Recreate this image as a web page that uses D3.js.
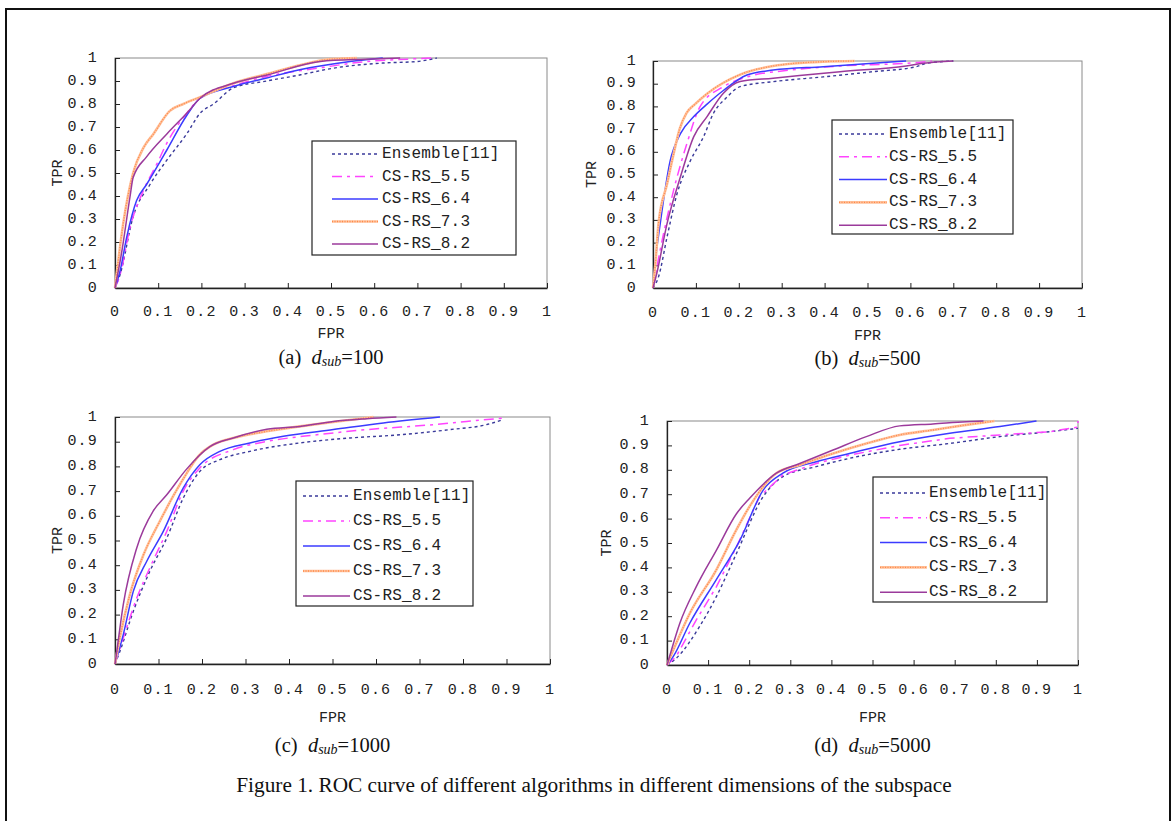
<!DOCTYPE html>
<html><head><meta charset="utf-8">
<script src="https://cdn.jsdelivr.net/npm/d3@7"></script>
<style>body{margin:0;background:#fff}</style>
</head><body>
<svg id="c" width="1176" height="821"></svg>
<script>
// ---------- DATA ----------
const seriesNames = ["Ensemble[11]", "CS-RS_5.5", "CS-RS_6.4", "CS-RS_7.3", "CS-RS_8.2"];
const xTicks = [0,0.1,0.2,0.3,0.4,0.5,0.6,0.7,0.8,0.9,1];
const yTicks = [0,0.1,0.2,0.3,0.4,0.5,0.6,0.7,0.8,0.9,1];
const panelLabels = ["(a)", "(b)", "(c)", "(d)"];
const panelDsub = ["100", "500", "1000", "5000"];
const figCaption = "Figure 1. ROC curve of different algorithms in different dimensions of the subspace";

// panel (a) d_sub=100  [FPR, TPR]
const a_ens = [[0,0],[0.012,0.06],[0.042,0.31],[0.081,0.45],[0.12,0.556],[0.166,0.67],[0.197,0.76],[0.228,0.80],[0.274,0.87],[0.351,0.90],[0.43,0.927],[0.506,0.956],[0.62,0.978],[0.70,0.985],[0.745,1]];
const a_55 = [[0,0],[0.012,0.06],[0.035,0.265],[0.066,0.425],[0.097,0.54],[0.12,0.63],[0.166,0.76],[0.197,0.825],[0.274,0.88],[0.351,0.92],[0.467,0.955],[0.583,0.985],[0.676,0.995],[0.737,1]];
const a_64 = [[0,0],[0.012,0.076],[0.027,0.22],[0.05,0.38],[0.073,0.45],[0.12,0.60],[0.166,0.75],[0.197,0.825],[0.274,0.876],[0.351,0.913],[0.43,0.95],[0.544,0.985],[0.62,1]];
const a_73 = [[0,0],[0.019,0.28],[0.042,0.50],[0.066,0.61],[0.089,0.67],[0.127,0.77],[0.158,0.80],[0.197,0.83],[0.274,0.89],[0.351,0.93],[0.43,0.97],[0.50,0.995],[0.56,1]];
const a_82 = [[0,0],[0.015,0.15],[0.035,0.40],[0.042,0.48],[0.073,0.57],[0.12,0.67],[0.166,0.76],[0.197,0.825],[0.274,0.89],[0.35,0.925],[0.475,0.985],[0.58,0.995],[0.66,1]];
// panel (b) d_sub=500
const b_ens = [[0,0],[0.013,0.05],[0.033,0.227],[0.056,0.415],[0.087,0.56],[0.118,0.667],[0.141,0.77],[0.172,0.84],[0.203,0.887],[0.28,0.909],[0.397,0.93],[0.513,0.953],[0.614,0.975],[0.637,0.99],[0.70,1]];
const b_55 = [[0,0],[0.017,0.17],[0.048,0.43],[0.079,0.636],[0.11,0.80],[0.164,0.887],[0.219,0.93],[0.32,0.96],[0.436,0.978],[0.59,0.99],[0.637,0.997],[0.65,1]];
const b_64 = [[0,0],[0.005,0.11],[0.017,0.286],[0.04,0.56],[0.064,0.68],[0.095,0.755],[0.126,0.81],[0.164,0.87],[0.219,0.938],[0.28,0.96],[0.397,0.975],[0.513,0.99],[0.59,1]];
const b_73 = [[0,0],[0.005,0.095],[0.013,0.287],[0.033,0.46],[0.048,0.59],[0.062,0.70],[0.078,0.77],[0.098,0.81],[0.126,0.856],[0.203,0.94],[0.28,0.978],[0.397,0.997],[0.47,1]];
const b_82 = [[0,0],[0.009,0.066],[0.033,0.286],[0.064,0.49],[0.095,0.667],[0.126,0.755],[0.164,0.858],[0.203,0.91],[0.28,0.924],[0.436,0.953],[0.59,0.978],[0.63,0.99],[0.70,1]];
// panel (c) d_sub=1000
const c_ens = [[0,0],[0.011,0.05],[0.042,0.213],[0.08,0.375],[0.119,0.51],[0.157,0.672],[0.195,0.78],[0.241,0.827],[0.31,0.861],[0.425,0.895],[0.54,0.915],[0.655,0.928],[0.77,0.949],[0.854,0.969],[0.893,0.99]];
const c_55 = [[0,0],[0.019,0.105],[0.05,0.267],[0.08,0.389],[0.119,0.537],[0.157,0.70],[0.195,0.794],[0.272,0.868],[0.349,0.901],[0.464,0.928],[0.579,0.949],[0.732,0.969],[0.808,0.982],[0.893,0.996]];
const c_64 = [[0,0],[0.019,0.119],[0.042,0.294],[0.073,0.416],[0.111,0.537],[0.157,0.713],[0.195,0.807],[0.241,0.861],[0.31,0.895],[0.387,0.922],[0.502,0.949],[0.617,0.976],[0.747,1]];
const c_73 = [[0,0],[0.011,0.105],[0.034,0.28],[0.065,0.44],[0.103,0.578],[0.149,0.726],[0.195,0.848],[0.226,0.888],[0.272,0.915],[0.349,0.942],[0.425,0.962],[0.502,0.98],[0.594,1]];
const c_82 = [[0,0],[0.004,0.05],[0.019,0.24],[0.05,0.47],[0.088,0.62],[0.119,0.685],[0.165,0.79],[0.218,0.88],[0.272,0.915],[0.349,0.95],[0.425,0.962],[0.502,0.982],[0.579,0.993],[0.647,1]];
// panel (d) d_sub=5000
const d_ens = [[0,0],[0.022,0.027],[0.079,0.157],[0.12,0.28],[0.169,0.457],[0.234,0.69],[0.282,0.772],[0.363,0.813],[0.444,0.847],[0.566,0.884],[0.688,0.908],[0.81,0.936],[0.93,0.956],[1,0.97]];
const d_55 = [[0,0],[0.022,0.034],[0.071,0.184],[0.12,0.32],[0.169,0.484],[0.225,0.69],[0.282,0.779],[0.363,0.826],[0.444,0.86],[0.566,0.90],[0.688,0.929],[0.81,0.943],[0.93,0.956],[1,0.975],[1,1]];
const d_64 = [[0,0],[0.015,0.034],[0.055,0.17],[0.12,0.35],[0.177,0.51],[0.234,0.717],[0.282,0.786],[0.363,0.833],[0.444,0.867],[0.566,0.915],[0.688,0.95],[0.81,0.977],[0.899,1]];
const d_73 = [[0,0],[0.015,0.06],[0.055,0.21],[0.12,0.39],[0.169,0.555],[0.201,0.65],[0.266,0.786],[0.323,0.82],[0.404,0.867],[0.485,0.908],[0.566,0.943],[0.647,0.963],[0.728,0.984],[0.797,1]];
const d_82 = [[0,0],[0.006,0.034],[0.031,0.17],[0.071,0.32],[0.12,0.47],[0.169,0.62],[0.201,0.683],[0.266,0.786],[0.323,0.826],[0.404,0.881],[0.485,0.936],[0.566,0.98],[0.647,0.988],[0.728,0.997],[0.77,1]];

// ---------- LAYOUT ----------
const panels = [
  {series:[a_ens,a_55,a_64,a_73,a_82], x0:115, x1:547, y0:58, y1:288, leg:{x:312,y:141,w:204,h:114,lx0:332,lx1:378,tx:382,row0:154,dy:22.5}, tick:312, fpr:334, cap:357, tprX:58, ytx:98},
  {series:[b_ens,b_55,b_64,b_73,b_82], x0:653, x1:1082, y0:61, y1:288, leg:{x:832,y:120,w:181,h:114,lx0:839,lx1:887,tx:889,row0:134,dy:22.8}, tick:313, fpr:336, cap:358, tprX:592, ytx:637},
  {series:[c_ens,c_55,c_64,c_73,c_82], x0:115, x1:550, y0:417, y1:664, leg:{x:296,y:481,w:177,h:125,lx0:303,lx1:350,tx:353,row0:496,dy:25}, tick:690, fpr:718, cap:745, tprX:58, ytx:98},
  {series:[d_ens,d_55,d_64,d_73,d_82], x0:667, x1:1078, y0:421, y1:665, leg:{x:873,y:477,w:174,h:125,lx0:880,lx1:927,tx:929,row0:493,dy:24.8}, tick:690, fpr:718, cap:745, tprX:607, ytx:650}
];
const styles = [
  {stroke:"#3a3a9a", width:1.4, dash:"3,3"},
  {stroke:"#ff44ff", width:1.5, dash:"10,5,3,5"},
  {stroke:"#3b3bff", width:1.5, dash:null},
  {stroke:"#ffc09a", width:2.6, dash:null, tex:"#ff8a4a"},
  {stroke:"#9b3a9b", width:1.5, dash:null}
];
const monoFont = "'Liberation Mono', 'DejaVu Sans Mono', monospace";
const serifFont = "'Liberation Serif', 'Times New Roman', serif";

const svg = d3.select("#c");
svg.append("rect").attr("x",6).attr("y",9).attr("width",1164).attr("height",830)
  .attr("fill","none").attr("stroke","#111").attr("stroke-width",2);

const fmt = d => d === 0 ? "0" : d === 1 ? "1" : d3.format(".1f")(d);

panels.forEach((p, pi) => {
  const x = d3.scaleLinear().domain([0,1]).range([p.x0, p.x1]);
  const y = d3.scaleLinear().domain([0,1]).range([p.y1, p.y0]);
  const g = svg.append("g");
  g.append("rect").attr("x",p.x0).attr("y",p.y0).attr("width",p.x1-p.x0).attr("height",p.y1-p.y0)
    .attr("fill","#fff").attr("stroke","#8a8a8a").attr("stroke-width",1);
  const xa = g.append("g").attr("transform",`translate(0,${p.y1})`)
    .call(d3.axisBottom(x).tickValues(xTicks).tickSizeInner(-5).tickSizeOuter(0).tickFormat(""));
  const ya = g.append("g").attr("transform",`translate(${p.x0},0)`)
    .call(d3.axisLeft(y).tickValues(yTicks).tickSizeInner(-5).tickSizeOuter(0).tickFormat(""));
  [xa, ya].forEach(a => { a.select(".domain").attr("stroke","#222").attr("stroke-width",1.3); a.selectAll(".tick line").attr("stroke","#222"); });
  g.selectAll(".xl").data(xTicks).join("text").attr("x",d=>x(d)).attr("y",p.tick)
    .attr("text-anchor","middle").attr("dominant-baseline","central")
    .style("font-family",monoFont).style("font-size","15px").style("letter-spacing","1.2px").attr("fill","#222").text(fmt);
  g.selectAll(".yl").data(yTicks).join("text").attr("x",p.ytx).attr("y",d=>y(d))
    .attr("text-anchor","end").attr("dominant-baseline","central")
    .style("font-family",monoFont).style("font-size","15px").style("letter-spacing","1.2px").attr("fill","#222").text(fmt);
  g.append("text").attr("x",(p.x0+p.x1)/2).attr("y",p.fpr).attr("text-anchor","middle").attr("dominant-baseline","central")
    .style("font-family",monoFont).style("font-size","15px").attr("fill","#222").text("FPR");
  g.append("text").attr("transform",`translate(${p.tprX},${(p.y0+p.y1)/2}) rotate(-90)`).attr("text-anchor","middle").attr("dominant-baseline","central")
    .style("font-family",monoFont).style("font-size","15px").attr("fill","#222").text("TPR");
  const cap = g.append("text").attr("x",(p.x0+p.x1)/2).attr("y",p.cap).attr("text-anchor","middle").attr("dominant-baseline","central")
    .style("font-family",serifFont).style("font-size","20.5px").attr("fill","#111");
  cap.append("tspan").text(panelLabels[pi] + "\u00a0\u00a0");
  cap.append("tspan").style("font-style","italic").text("d");
  cap.append("tspan").style("font-style","italic").style("font-size","14px").attr("dy",4).text("sub");
  cap.append("tspan").attr("dy",-4).text("=" + panelDsub[pi]);
  const line = d3.line().x(d=>x(d[0])).y(d=>y(d[1])).curve(d3.curveMonotoneX);
  const lineL = d3.line().x(d=>x(d[0])).y(d=>y(d[1]));
  p.series.forEach((s, si) => {
    const st = styles[si];
    const gen = s.some((d,i)=> i>0 && d[0]===s[i-1][0]) ? lineL : line;
    g.append("path").datum(s).attr("d",gen).attr("fill","none").attr("stroke",st.stroke)
      .attr("stroke-width",st.width).attr("stroke-dasharray",st.dash).attr("stroke-linejoin","round");
    if (st.tex) g.append("path").datum(s).attr("d",gen).attr("fill","none").attr("stroke",st.tex)
      .attr("stroke-width",1.3).attr("stroke-dasharray","1,1.5");
  });
  const L = p.leg;
  g.append("rect").attr("x",L.x).attr("y",L.y).attr("width",L.w).attr("height",L.h)
    .attr("fill","#fff").attr("stroke","#222").attr("stroke-width",1.2);
  seriesNames.forEach((nm, si) => {
    const st = styles[si]; const yy = L.row0 + si*L.dy;
    g.append("line").attr("x1",L.lx0).attr("x2",L.lx1).attr("y1",yy).attr("y2",yy)
      .attr("stroke",st.stroke).attr("stroke-width",st.width).attr("stroke-dasharray",st.dash);
    if (st.tex) g.append("line").attr("x1",L.lx0).attr("x2",L.lx1).attr("y1",yy).attr("y2",yy)
      .attr("stroke",st.tex).attr("stroke-width",1.3).attr("stroke-dasharray","1,1.5");
    g.append("text").attr("x",L.tx).attr("y",yy).attr("dominant-baseline","central")
      .style("font-family",monoFont).style("font-size","16px").style("letter-spacing","0.2px").attr("fill","#222").text(nm);
  });
});
svg.append("text").attr("x",594).attr("y",785).attr("text-anchor","middle").attr("dominant-baseline","central")
  .style("font-family",serifFont).style("font-size","21.3px").attr("fill","#111").text(figCaption);
</script>
</body></html>
